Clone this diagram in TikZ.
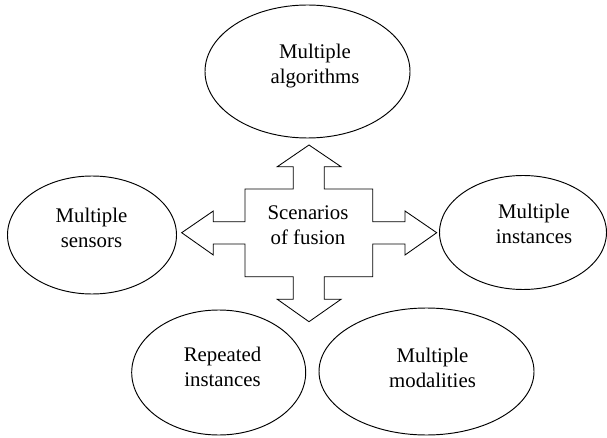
\documentclass[tikz,border=0pt]{standalone}
\usepackage{fontspec}
\setmainfont{Liberation Serif}
\usetikzlibrary{shapes.geometric}
\begin{document}
\begin{tikzpicture}[x=1pt,y=-1pt,
  oval/.style={draw, ellipse, line width=0.95pt, inner sep=0pt},
  lbl/.style={align=center, font=\fontsize{20.8}{25}\selectfont, inner sep=0pt},
  cross/.style={draw, line width=0.85pt, line join=miter}]
\useasboundingbox (0,0) rectangle (607,438);
% ellipses
\node[oval, minimum width=205pt, minimum height=133pt] (alg) at (307.5,71.5) {};
\node[oval, minimum width=169pt, minimum height=118pt] (sen) at (92,235) {};
\node[oval, minimum width=167pt, minimum height=114pt] (ins) at (523,232.5) {};
\node[oval, minimum width=174pt, minimum height=125pt] (rep) at (218.7,372.5) {};
\node[oval, minimum width=215pt, minimum height=127pt] (mod) at (426.5,371.5) {};
% cross arrow
\draw[cross] (309,145) -- (341,166.7) -- (324.3,166.7) -- (324.3,189) -- (372.7,189)
  -- (372.7,221.7) -- (405,221.7) -- (405,211) -- (436.7,232.7) -- (405,255)
  -- (405,244) -- (372.7,244) -- (372.7,276.7) -- (324.3,276.7) -- (324.3,299.3)
  -- (341,299.3) -- (309,321.7) -- (277.3,299.3) -- (293.3,299.3) -- (293.3,276.7)
  -- (245,276.7) -- (245,244) -- (213.3,244) -- (213.3,255) -- (181.7,232.7)
  -- (213.3,211) -- (213.3,221.7) -- (245,221.7) -- (245,189) -- (293.3,189)
  -- (293.3,166.7) -- (277.3,166.7) -- cycle;
% labels
\node[lbl] (tc) at (308,225) {Scenarios\\of fusion};
\node[lbl] (t1) at (315,66.4) {Multiple\\algorithms};
\node[lbl] (t2) at (91.5,227.5) {Multiple\\sensors};
\node[lbl] (t3) at (534,223.5) {Multiple\\instances};
\node[lbl] (t4) at (222.5,367) {Repeated\\instances};
\node[lbl] (t5) at (432.5,368) {Multiple\\modalities};
\end{tikzpicture}
\end{document}
